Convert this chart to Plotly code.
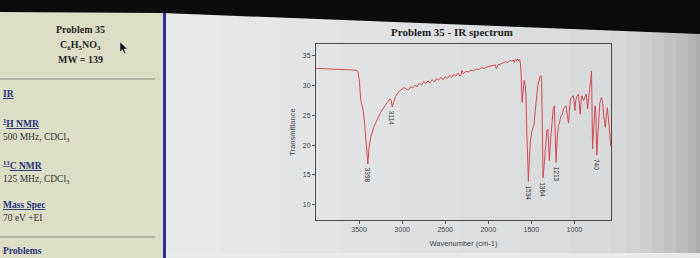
import plotly.graph_objects as go

# ---- data ----
wavenumber = [3998, 3900, 3800, 3700, 3600, 3530, 3510, 3495, 3480, 3465, 3450, 3435, 3415, 3398,
              3385, 3365, 3330, 3290, 3250, 3210, 3170, 3140, 3128, 3114, 3098, 3075, 3045, 3010,
              2985, 2965, 2945, 2925, 2900, 2875, 2850, 2825, 2800, 2775, 2750, 2725, 2700, 2675,
              2650, 2625, 2600, 2575, 2550, 2525, 2500, 2475, 2450, 2425, 2400, 2375, 2350, 2330,
              2318, 2306, 2290, 2260, 2230, 2200, 2170, 2140, 2110, 2080, 2050, 2020, 1990, 1960,
              1935, 1918, 1905, 1890, 1860, 1830, 1800, 1775, 1750, 1725, 1710, 1698, 1685, 1672,
              1660, 1648, 1636, 1628, 1618, 1607, 1596, 1583, 1570, 1563, 1552, 1543, 1534, 1524,
              1510, 1495, 1482, 1468, 1450, 1425, 1400, 1388, 1380, 1373, 1364, 1352, 1338, 1320,
              1308, 1300, 1291, 1278, 1260, 1245, 1232, 1222, 1213, 1200, 1185, 1170, 1155, 1140,
              1126, 1110, 1097, 1082, 1068, 1055, 1044, 1030, 1015, 1005, 995, 984, 974, 954,
              944, 933, 922, 913, 893, 878, 862, 852, 846, 834, 822, 810, 801, 795,
              789, 775, 760, 752, 740, 725, 705, 685, 672, 660, 641, 630, 618, 605,
              590, 577]
transmittance = [32.9, 32.85, 32.8, 32.75, 32.7, 32.6, 32.3, 30.5, 27.5, 26.3, 25.7, 23.5, 19.5, 16.8,
                 19.5, 21.3, 23.0, 24.4, 25.5, 26.4, 27.3, 27.8, 27.5, 26.4, 27.2, 28.2, 28.9, 29.3,
                 29.6, 29.6, 29.3, 29.3, 29.8, 29.6, 30.1, 29.8, 30.4, 30.1, 30.7, 30.4, 30.8, 30.5,
                 31.0, 30.6, 31.2, 30.9, 31.4, 31.0, 31.5, 31.2, 31.7, 31.4, 31.9, 31.6, 32.1, 31.6,
                 31.7, 32.6, 32.0, 32.4, 32.3, 32.6, 32.5, 32.8, 32.7, 33.0, 32.9, 33.1, 33.2, 33.3,
                 33.4, 33.5, 32.8, 33.5, 33.6, 33.8, 34.0, 33.9, 34.2, 34.1, 34.3, 33.9, 34.4, 34.1,
                 34.5, 34.2, 34.4, 33.9, 31.8, 27.2, 29.6, 30.9, 29.8, 28.6, 22.0, 17.0, 13.9, 17.5,
                 20.8, 22.2, 23.1, 23.5, 26.5, 30.0, 31.5, 31.7, 30.5, 24.0, 14.5, 16.5, 20.0, 22.4,
                 22.7, 20.0, 17.4, 20.5, 24.0, 26.2, 26.6, 22.0, 17.1, 21.0, 23.2, 24.0, 24.9, 25.2,
                 26.1, 26.4, 26.6, 25.0, 23.7, 26.5, 27.8, 28.0, 28.3, 27.5, 25.8, 27.5, 28.1, 28.6,
                 27.0, 25.2, 27.5, 28.3, 27.5, 28.0, 28.6, 27.0, 26.1, 28.0, 29.2, 31.0, 32.4, 28.0,
                 19.4, 23.0, 26.6, 25.5, 18.3, 22.5, 27.0, 28.0, 27.2, 25.0, 23.0, 24.8, 26.3, 24.5,
                 22.0, 19.8]

peak_labels = ["3398", "3114", "1534", "1364", "1213", "740"]
peak_x = [3398, 3114, 1534, 1364, 1213, 740]
peak_y = [16.8, 26.4, 13.9, 14.5, 17.1, 18.3]

x_ticks = [3500, 3000, 2500, 2000, 1500, 1000]
y_ticks = [10, 15, 20, 25, 30, 35]

# background tones of the photographed screen, left to right (hand picked)
bg_stops = ["#e7e8ea", "#e5e6e8", "#e3e4e6", "#e1e2e4", "#dfe0e2", "#dddee0", "#dbdcde",
            "#d9dadc", "#d6d7d9", "#d2d3d5", "#cdced0", "#c7c8ca", "#c1c2c4", "#babbbd",
            "#b3b4b6", "#acadaf"]
bg_edges = [166, 220, 280, 340, 400, 460, 520, 570, 610, 625, 640, 652, 664, 676, 688, 696, 700]

# ---- layout geometry (pixels) ----
W, H = 700, 258
PL, PR, PT, PB = 316, 611, 44, 220


def px(x):
    return (x - PL) / (PR - PL)


def py(y):
    return (PB - y) / (PB - PT)


fig = go.Figure()
fig.add_trace(go.Scatter(x=wavenumber, y=transmittance, mode="lines",
                         line=dict(color="#d24a52", width=1), hoverinfo="skip",
                         showlegend=False))

shapes = []


def rect(x0, y0, x1, y1, color, layer="below"):
    shapes.append(dict(type="rect", xref="paper", yref="paper",
                       x0=px(x0), x1=px(x1), y0=py(y1), y1=py(y0),
                       fillcolor=color, line=dict(width=0), layer=layer))


# background photo tones
for c, a, b in zip(bg_stops, bg_edges[:-1], bg_edges[1:]):
    rect(a, 0, b + 0.5, H, c)
rect(166, 253, 700, H, "#e9eaea")
# left panel
rect(0, 0, 163, H, "#dcdfc5")
rect(163, 0, 166, H, "#2d2e98")
# separator lines in the left panel
for yy in (79, 237):
    shapes.append(dict(type="line", xref="paper", yref="paper",
                       x0=px(0), x1=px(155), y0=py(yy), y1=py(yy),
                       line=dict(color="#8a8c7c", width=1), layer="below"))
# dark top band (slanted)
pts = [(0, 0), (W, 0), (W, 34), (163, 13), (0, 12)]
path = "M " + " L ".join(f"{px(a):.4f},{py(b):.4f}" for a, b in pts) + " Z"
shapes.append(dict(type="path", xref="paper", yref="paper", path=path,
                   fillcolor="#0b0b0d", line=dict(width=0), layer="above"))
# mouse cursor
cur = [(120, 42), (120, 52), (122.5, 49.6), (124.2, 53.4), (125.6, 52.7), (124, 49), (127.4, 49)]
cpath = "M " + " L ".join(f"{px(a):.4f},{py(b):.4f}" for a, b in cur) + " Z"
shapes.append(dict(type="path", xref="paper", yref="paper", path=cpath,
                   fillcolor="#111111", line=dict(color="#dddddd", width=0.5), layer="above"))

annotations = []
serif = "Liberation Serif"
sans = "Liberation Sans"


def txt(x, y, s, size=9, color="#222222", anchor="left", family=serif):
    annotations.append(dict(x=px(x), y=py(y), xref="paper", yref="paper", text=s,
                            showarrow=False, xanchor=anchor, yanchor="middle",
                            font=dict(family=family, size=size, color=color)))


link = "#2b2f7d"
ul = '<span style="text-decoration:underline">'
txt(80, 30, "<b>Problem 35</b>", 10, "#262626", "center")
txt(80, 45, "<b>C<sub>6</sub>H<sub>5</sub>NO<sub>3</sub></b>", 10, "#262626", "center")
txt(80, 59, "<b>MW = 139</b>", 10, "#262626", "center")
txt(1, 94, "<b>" + ul + "IR</span></b>", 9.5, link)
txt(1, 123, "<b>" + ul + "<sup>1</sup>H NMR</span></b>", 9.5, link)
txt(1, 137, "500 MHz, CDCl<sub>3</sub>", 9.5, "#333333")
txt(1, 165, "<b>" + ul + "<sup>13</sup>C NMR</span></b>", 9.5, link)
txt(1, 179, "125 MHz, CDCl<sub>3</sub>", 9.5, "#333333")
txt(1, 205, "<b>" + ul + "Mass Spec</span></b>", 9.5, link)
txt(1, 218, "70 eV +EI", 9.5, "#333333")
txt(1, 251, "<b>Problems</b>", 9.5, link)

# chart title
txt(452, 32, "<b>Problem 35 - IR spectrum</b>", 11, "#1c1c1c", "center")

# peak labels
for lab, xv, yv in zip(peak_labels, peak_x, peak_y):
    annotations.append(dict(x=xv, y=yv, xref="x", yref="y", text=lab, showarrow=False,
                            textangle=90, xanchor="center", yanchor="top", yshift=-2,
                            font=dict(family=sans, size=6.5, color="#333333")))

fig.update_layout(
    width=W, height=H,
    margin=dict(l=PL, r=W - PR, t=PT, b=H - PB),
    paper_bgcolor="#dcdde0",
    plot_bgcolor="rgba(0,0,0,0)",
    shapes=shapes,
    annotations=annotations,
    xaxis=dict(range=[4000, 575], tickvals=x_ticks, ticktext=[str(t) for t in x_ticks],
               ticks="outside", ticklen=3, tickcolor="#555555", showgrid=False, zeroline=False,
               showline=True, linecolor="#4a4a4a", linewidth=1, mirror=True,
               tickfont=dict(family=sans, size=7, color="#444444"),
               title=dict(text="Wavenumber (cm-1)", standoff=8,
                          font=dict(family=sans, size=7.5, color="#444444"))),
    yaxis=dict(range=[7.4, 37], tickvals=y_ticks, ticktext=[str(t) for t in y_ticks],
               ticks="outside", ticklen=3, tickcolor="#555555", showgrid=False, zeroline=False,
               showline=True, linecolor="#4a4a4a", linewidth=1, mirror=True,
               tickfont=dict(family=sans, size=7, color="#444444"),
               title=dict(text="Transmittance", standoff=6,
                          font=dict(family=sans, size=7.5, color="#444444"))),
)

fig.write_html("out.html")
